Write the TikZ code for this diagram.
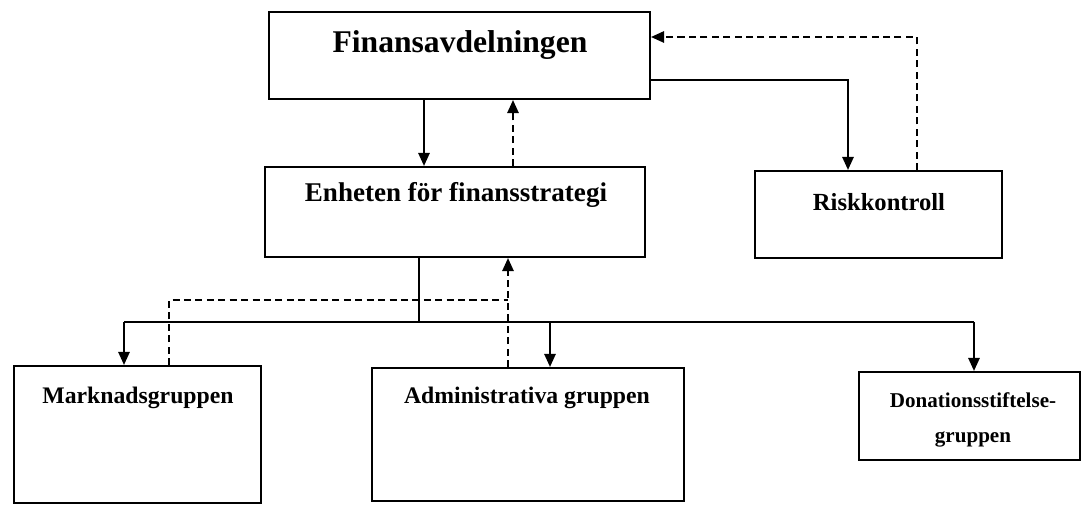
\documentclass[tikz,border=0pt]{standalone}
\usepackage{fontspec}
\setmainfont{Liberation Serif}
\usetikzlibrary{arrows.meta}

\tikzset{
  box/.style={draw, line width=1.2pt, inner sep=0pt},
  txt/.style={font=\bfseries, inner sep=0pt, align=center},
  link/.style={line width=1.1pt},
  dlink/.style={line width=1.1pt, dash pattern=on 4pt off 2.5pt},
  tip/.style={-{Triangle[length=7.5pt,width=6.5pt]}}
}

\begin{document}
\begin{tikzpicture}[x=0.02cm,y=-0.02cm]
\useasboundingbox (0,0) rectangle (1083,506);

% boxes
\node[box, minimum width=7.62cm, minimum height=1.74cm] (fin)  at (459.5,55.5) {};
\node[box, minimum width=7.6cm,  minimum height=1.8cm]  (enh)  at (455,212) {};
\node[box, minimum width=4.94cm, minimum height=1.74cm] (risk) at (878.5,214.5) {};
\node[box, minimum width=4.94cm, minimum height=2.74cm] (mark) at (137.5,434.5) {};
\node[box, minimum width=6.24cm, minimum height=2.66cm] (adm)  at (528,434.5) {};
\node[box, minimum width=4.42cm, minimum height=1.76cm] (don)  at (969.5,416) {};

% texts
\node[txt, font=\bfseries\fontsize{18}{20}\selectfont] (fintxt) at (460,45) {Finansavdelningen};
\node[txt, font=\bfseries\fontsize{15.4}{17}\selectfont] (enhtxt) at (456,195) {Enheten för finansstrategi};
\node[txt, font=\bfseries\fontsize{14}{16}\selectfont] (risktxt) at (879,202) {Riskkontroll};
\node[txt, font=\bfseries\fontsize{13.5}{16}\selectfont] (marktxt) at (138,398) {Marknadsgruppen};
\node[txt, font=\bfseries\fontsize{13.5}{16}\selectfont] (admtxt) at (527,398) {Administrativa gruppen};
\node[txt, font=\bfseries\fontsize{12}{20}\selectfont] (dontxt) at (973,420) {Donationsstiftelse-\\gruppen};

% helper points
\coordinate (fe1) at (424,0);
\coordinate (fe2) at (513,0);
\coordinate (rk) at (848,80);
\coordinate (rd) at (917,37);
\coordinate (e1) at (419,322);
\coordinate (ma) at (124,322);
\coordinate (ad) at (550,322);
\coordinate (do) at (974,322);
\coordinate (dm) at (169,300);
\coordinate (da) at (508,300);

% Finansavdelningen <-> Enheten
\draw[link,tip] (fe1 |- fin.south) -- (fe1 |- enh.north);
\draw[dlink,tip] (fe2 |- enh.north) -- (fe2 |- fin.south);

% Finansavdelningen <-> Riskkontroll
\draw[link,tip] (fin.east |- rk) -| (rk |- risk.north);
\draw[dlink,tip] (rd |- risk.north) -- (rd) -- (fin.east |- rd);

% Enheten -> groups
\draw[link] (e1 |- enh.south) -- (e1);
\draw[link] (ma) -- (do);
\draw[link,tip] (ma) -- (ma |- mark.north);
\draw[link,tip] (ad) -- (ad |- adm.north);
\draw[link,tip] (do) -- (do |- don.north);

% groups -> Enheten (dashed)
\draw[dlink] (dm |- mark.north) -- (dm) -- (da);
\draw[dlink,tip] (da |- adm.north) -- (da |- enh.south);
\end{tikzpicture}
\end{document}
